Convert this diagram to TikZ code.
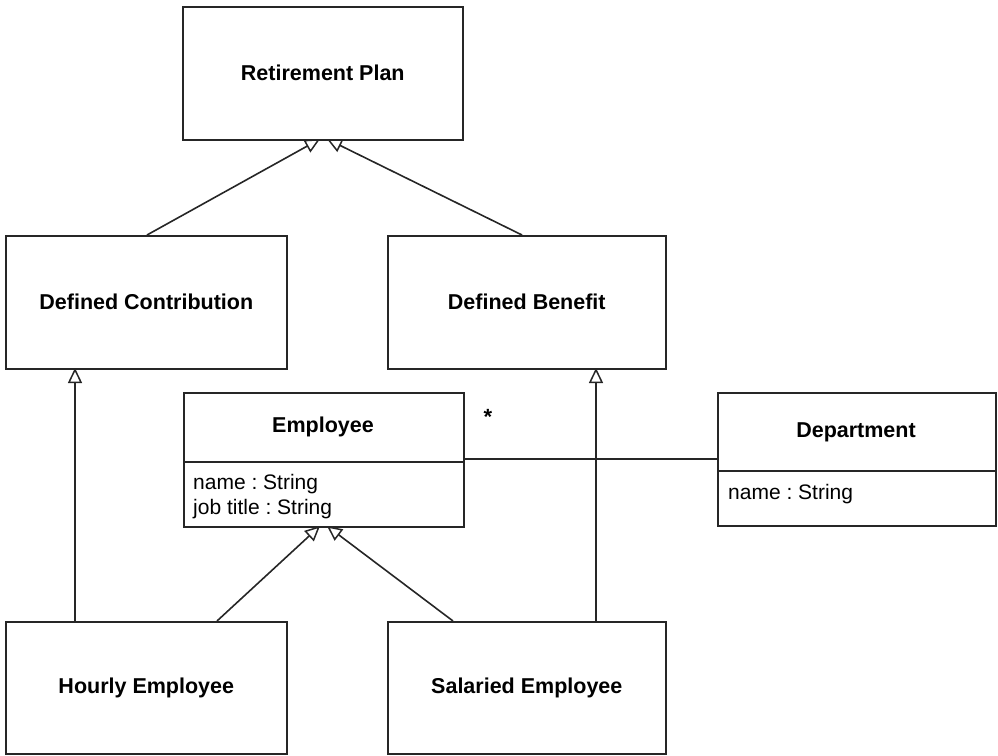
\documentclass[tikz,border=0pt]{standalone}
\usepackage{fontspec}
\setmainfont{Liberation Sans}
\usetikzlibrary{arrows.meta,calc}
\frenchspacing
\begin{document}
\begin{tikzpicture}[x=1pt,y=-1pt,
  cls/.style={draw=black!85,line width=1.6pt,anchor=north west,inner sep=0pt,fill=white},
  ttl/.style={font=\fontsize{21.5}{22}\selectfont\bfseries},
  attr/.style={font=\fontsize{21}{25}\selectfont,anchor=north west,align=left,inner sep=0pt},
  gen/.style={draw=black!85,line width=1.6pt,-{Triangle[open,length=15pt,width=14pt,line width=1.5pt]}},
  assoc/.style={draw=black!85,line width=1.6pt}]
\useasboundingbox (0,0) rectangle (998,755);
% plain classes
\node[cls,minimum width=280pt,minimum height=133pt] (rp) at (182,6) {};
\node[ttl] at (rp.center) {Retirement Plan};
\node[cls,minimum width=281pt,minimum height=133pt] (dc) at (5,235) {};
\node[ttl] at (dc.center) {Defined Contribution};
\node[cls,minimum width=278pt,minimum height=133pt] (db) at (387,235) {};
\node[ttl] at (db.center) {Defined Benefit};
\node[cls,minimum width=281pt,minimum height=132pt] (he) at (5,621) {};
\node[ttl] at (he.center) {Hourly Employee};
\node[cls,minimum width=278pt,minimum height=132pt] (se) at (387,621) {};
\node[ttl] at (se.center) {Salaried Employee};
% Employee
\node[cls,minimum width=280pt,minimum height=134pt] (emp) at (183,392) {};
\draw[assoc] (183,462) -- (463,462);
\node[ttl] (empn) at (323,427) {Employee};
\node[attr] (empa) at (193,474) {name : String\\job title : String};
% Department
\node[cls,minimum width=278pt,minimum height=133pt] (dep) at (717,392) {};
\draw[assoc] (717,471) -- (995,471);
\node[ttl] (depn) at (856,432) {Department};
\node[attr] (depa) at (728,484) {name : String};
% generalizations
\coordinate (rpL) at (320,139);
\coordinate (rpR) at (327,139);
\coordinate (dcT) at (147,235);
\coordinate (dbT) at (522,235);
\draw[gen] (dcT) -- (rpL);
\draw[gen] (dbT) -- (rpR);
\coordinate (heT) at (75,621);
\coordinate (dcB) at (75,368);
\draw[gen,line width=2pt] (heT) -- (dcB);
\coordinate (seT2) at (596,621);
\coordinate (dbB) at (596,368);
\draw[gen,line width=1.1pt] (seT2) -- (dbB);
\coordinate (empL) at (320,526);
\coordinate (empR) at (327,526);
\coordinate (heT2) at (217,621);
\coordinate (seT) at (453,621);
\draw[gen] (heT2) -- (empL);
\draw[gen] (seT) -- (empR);
% association
\coordinate (empE) at (463,459);
\coordinate (depW) at (717,459);
\draw[assoc] (empE) -- (depW);
\node[font=\fontsize{22}{22}\selectfont\bfseries] (mult) at (488,417) {*};
\end{tikzpicture}
\end{document}
